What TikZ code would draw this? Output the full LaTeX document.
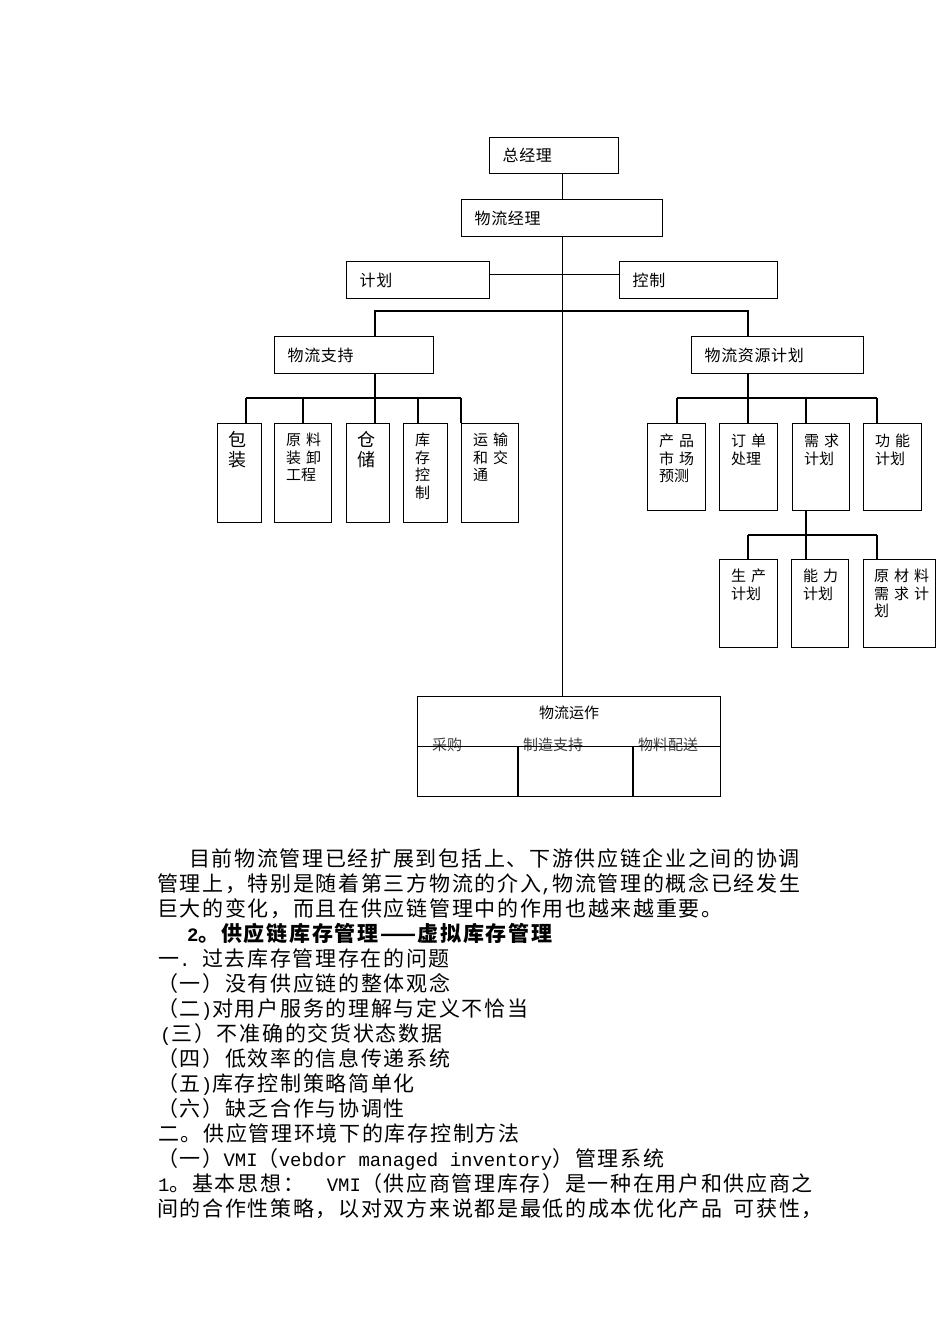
\documentclass[tikz,border=0pt]{standalone}
\usepackage{fontspec}
\usetikzlibrary{positioning,calc}
\newfontfamily\boxfont{Noto Sans CJK SC}[LetterSpace=4]
\newfontfamily\colfont{Noto Sans CJK SC}
\newfontfamily\bodyfont{Noto Sans CJK SC}[LetterSpace=8]
\newfontfamily\latfont{Liberation Mono}
\newcommand{\sgap}{\hspace{5pt}}
\newcommand{\lat}[1]{{\latfont\fontsize{19}{25}\selectfont #1}}

\begin{document}
\begin{tikzpicture}[x=1pt,y=-1pt,
    box/.style={draw, line width=1.3pt, inner sep=0pt, anchor=north west},
    hbox/.style={box, font=\boxfont\fontsize{16}{18}\selectfont, inner xsep=13pt, align=left},
    coltext/.style={inner sep=0pt, align=left, font=\colfont\fontsize{15}{17.5}\selectfont},
    bigtext/.style={inner sep=0pt, align=left, font=\colfont\fontsize{18}{20}\selectfont},
    subtext/.style={inner sep=0pt, anchor=west, text=black!75, font=\colfont\fontsize{15}{17}\selectfont},
    conn/.style={line width=1.1pt},
    para/.style={inner sep=0pt, anchor=base west, font=\bodyfont\fontsize{21}{25}\selectfont}]
        \fill[white] (0,0) rectangle (950,1344);
        \useasboundingbox (0,0) rectangle (950,1344);
        % Draw upper boxes
        \node[hbox, text width=103pt, minimum height=36pt] (zjl) at (489,137) {总经理};
        \node[hbox, text width=175pt, minimum height=37pt] (wljl) at (461,199) {物流经理};
        \node[hbox, text width=117pt, minimum height=37pt] (jh) at (346,261) {计划};
        \node[hbox, text width=132pt, minimum height=37pt] (kz) at (619,261) {控制};
        \node[hbox, text width=133pt, minimum height=37pt] (wlzc) at (274,336) {物流支持};
        \node[hbox, text width=146pt, minimum height=37pt] (zyjh) at (691,336) {物流资源计划};
        % Draw column boxes
        \node[box, minimum width=44pt, minimum height=99pt] (bz) at (217,423) {};
        \node[box, minimum width=57pt, minimum height=99pt] (ylzx) at (274,423) {};
        \node[box, minimum width=43pt, minimum height=99pt] (cc) at (346,423) {};
        \node[box, minimum width=44pt, minimum height=99pt] (kckz) at (403,423) {};
        \node[box, minimum width=57pt, minimum height=99pt] (ysjt) at (461,423) {};
        \node[box, minimum width=58pt, minimum height=87pt] (cpsc) at (647,423) {};
        \node[box, minimum width=58pt, minimum height=87pt] (ddcl) at (719,423) {};
        \node[box, minimum width=57pt, minimum height=87pt] (xqjh) at (792,423) {};
        \node[box, minimum width=58pt, minimum height=87pt] (gnjh) at (863,423) {};
        \node[box, minimum width=58pt, minimum height=88pt] (scjh) at (719,559) {};
        \node[box, minimum width=57pt, minimum height=88pt] (nljh) at (791,559) {};
        \node[box, minimum width=72pt, minimum height=88pt] (ycl) at (863,559) {};
        \node[box, minimum width=303pt, minimum height=100pt] (wlyz) at (417,696) {};
        % Column texts
        \node[bigtext, below right=8pt and 11pt of bz.north west] (bz-t) {包\\装};
        \node[coltext, below right=10pt and 12pt of ylzx.north west] (ylzx-t) {原\sgap 料\\装\sgap 卸\\工程};
        \node[bigtext, below right=8pt and 11pt of cc.north west] (cc-t) {仓\\储};
        \node[coltext, below right=10pt and 12pt of kckz.north west] (kckz-t) {库\\存\\控\\制};
        \node[coltext, below right=10pt and 12pt of ysjt.north west] (ysjt-t) {运\sgap 输\\和\sgap 交\\通};
        \node[coltext, below right=11pt and 12pt of cpsc.north west] (cpsc-t) {产\sgap 品\\市\sgap 场\\预测};
        \node[coltext, below right=11pt and 12pt of ddcl.north west] (ddcl-t) {订\sgap 单\\处理};
        \node[coltext, below right=11pt and 12pt of xqjh.north west] (xqjh-t) {需\sgap 求\\计划};
        \node[coltext, below right=11pt and 12pt of gnjh.north west] (gnjh-t) {功\sgap 能\\计划};
        \node[coltext, below right=10pt and 12pt of scjh.north west] (scjh-t) {生\sgap 产\\计划};
        \node[coltext, below right=10pt and 12pt of nljh.north west] (nljh-t) {能\sgap 力\\计划};
        \node[coltext, below right=10pt and 11pt of ycl.north west] (ycl-t) {原\sgap 材\sgap 料\\需\sgap 求\sgap 计\\划};
        % Operations box
        \node[coltext, below=10pt of wlyz.north] (wlyz-t) {物流运作};
        \node[subtext] (cg) at ([xshift=15pt,yshift=2pt]wlyz.west) {采购};
        \node[subtext] (zzzc) at ([xshift=106pt,yshift=2pt]wlyz.west) {制造支持};
        \node[subtext] (wlps) at ([xshift=221pt,yshift=2pt]wlyz.west) {物料配送};
        \draw[conn] (wlyz.west) -- (wlyz.east);
        \foreach \dx in {101,216}
            \draw[conn] ([xshift=\dx pt]wlyz.south west) -- ([xshift=\dx pt]wlyz.west);
        % Draw connectors
        \draw[conn] (zjl.south -| wljl.north) -- (wljl.north);
        \draw[conn] (wljl.south) -- (wljl.south |- wlyz.north);
        \draw[conn] ([yshift=6pt]jh.east) -- ([yshift=6pt]kz.west);
        \coordinate (b1) at (375,311);
        \coordinate (b2) at (748,311);
        \draw[conn] (wlzc.north -| b1) |- (b2) -- (b2 |- zyjh.north);
        % support branch
        \draw[conn] (wlzc.south -| b1) -- (cc.north -| b1);
        \draw[conn] (246,398) -- (461,398);
        \foreach \n/\x in {bz/246,ylzx/303,kckz/418,ysjt/461}
            \draw[conn] (\x,398) coordinate (tmp) -- (tmp |- \n.north);
        % resource branch
        \draw[conn] (zyjh.south -| b2) -- (ddcl.north -| b2);
        \draw[conn] (677,398) -- (877,398);
        \foreach \n/\x in {cpsc/677,xqjh/806,gnjh/877}
            \draw[conn] (\x,398) coordinate (tmp) -- (tmp |- \n.north);
        \coordinate (b3) at (806,535);
        \draw[conn] (xqjh.south -| b3) -- (nljh.north -| b3);
        \draw[conn] (748,535) -- (877,535);
        \foreach \n/\x in {scjh/748,ycl/877}
            \draw[conn] (\x,535) coordinate (tmp) -- (tmp |- \n.north);
        % Body text
        \node[para] (p1) at (189,866) {目前物流管理已经扩展到包括上、下游供应链企业之间的协调};
        \node[para] (p2) at (157,891) {管理上，特别是随着第三方物流的介入\lat{,}物流管理的概念已经发生};
        \node[para] (p3) at (157,916) {巨大的变化，而且在供应链管理中的作用也越来越重要。};
        \node[para, font=\bodyfont\bfseries\fontsize{21}{25}\selectfont] (p4) at (187,941) {\lat{2}。供应链库存管理——虚拟库存管理};
        \node[para] (p5) at (158,966) {一\lat{.\ }过去库存管理存在的问题};
        \node[para] (p6) at (157,991) {（一）没有供应链的整体观念};
        \node[para] (p7) at (157,1016) {（二\lat{)}对用户服务的理解与定义不恰当};
        \node[para] (p8) at (160,1041) {\lat{(}三）不准确的交货状态数据};
        \node[para] (p9) at (157,1066) {（四）低效率的信息传递系统};
        \node[para] (p10) at (157,1091) {（五\lat{)}库存控制策略简单化};
        \node[para] (p11) at (157,1116) {（六）缺乏合作与协调性};
        \node[para] (p12) at (158,1141) {二。供应管理环境下的库存控制方法};
        \node[para] (p13) at (157,1166) {（一）\lat{VMI}（\lat{vebdor managed inventory}）管理系统};
        \node[para] (p14) at (158,1191) {\lat{1}。基本思想：\lat{\ \ VMI}（供应商管理库存）是一种在用户和供应商之};
        \node[para] (p15) at (157,1216) {间的合作性策略，以对双方来说都是最低的成本优化产品\lat{\ }可获性，};
    \end{tikzpicture}
\end{document}
